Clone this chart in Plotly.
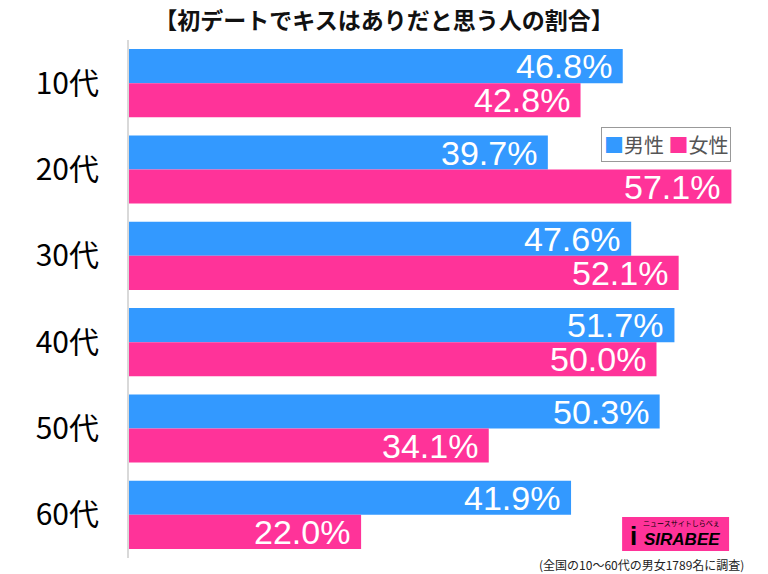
import plotly.graph_objects as go

categories = ["10代", "20代", "30代", "40代", "50代", "60代"]
male = [46.8, 39.7, 47.6, 51.7, 50.3, 41.9]
female = [42.8, 57.1, 52.1, 50.0, 34.1, 22.0]
series_names = ["男性", "女性"]
title_text = "【初デートでキスはありだと思う人の割合】"
note_text = "(全国の10～60代の男女1789名に調査)"

BLUE = "#3399FF"
PINK = "#FF3399"
FONT = "Liberation Sans, Arial, sans-serif"
JP = "Noto Sans CJK JP, sans-serif"

fig = go.Figure()
for name, vals, col in [(series_names[0], male, BLUE), (series_names[1], female, PINK)]:
    fig.add_trace(go.Bar(
        y=categories, x=vals, name=name, orientation="h",
        marker=dict(color=col, line=dict(width=0)),
        showlegend=False,
    ))

annotations = []
for vals, shift in [(male, 17), (female, -17)]:
    for c, v in zip(categories, vals):
        annotations.append(dict(
            x=v, y=c, xref="x", yref="y", text=f"{v:.1f}%", showarrow=False,
            xanchor="right", yanchor="middle", xshift=-9, yshift=shift,
            font=dict(size=34, color="white", family=FONT)))

legend_text = (f"<span style='color:{BLUE}'>■</span>{series_names[0]} "
               f"<span style='color:{PINK}'>■</span>{series_names[1]}")
annotations += [
    dict(text=legend_text, xref="paper", yref="paper", x=0.951, y=0.832, xanchor="right", yanchor="top",
         showarrow=False, bordercolor="#999", borderwidth=1, borderpad=2, bgcolor="white",
         font=dict(size=20, color="#555", family=JP)),
    dict(text=note_text, xref="paper", yref="paper", x=0.975, y=-0.0135, xanchor="right", yanchor="middle",
         showarrow=False, font=dict(size=12, color="#222", family=JP)),
    dict(text="<b><i>SIRABEE</i></b>", xref="paper", yref="paper", x=0.937, y=0.036, xanchor="right",
         yanchor="middle", showarrow=False, font=dict(size=17, color="black", family=FONT)),
    dict(text="<b>i</b>", xref="paper", yref="paper", x=0.797, y=0.042, xanchor="center",
         yanchor="middle", showarrow=False, font=dict(size=26, color="black", family=FONT)),
    dict(text="ニュースサイトしらべぇ", xref="paper", yref="paper", x=0.937, y=0.068, xanchor="right",
         yanchor="middle", showarrow=False, font=dict(size=7, color="black", family=JP)),
]

fig.update_layout(
    width=768, height=574,
    margin=dict(l=129, r=6, t=40, b=16),
    barmode="group", bargap=0.21, bargroupgap=0,
    plot_bgcolor="white", paper_bgcolor="white",
    font=dict(family=FONT),
    showlegend=False,
    title=dict(text=title_text, x=0.5, xanchor="center", y=0.963, yanchor="middle",
               font=dict(size=23, color="#111", family=JP, weight="bold")),
    xaxis=dict(range=[0, 60], showgrid=False, zeroline=False, showticklabels=False, showline=False),
    yaxis=dict(autorange="reversed", showgrid=False, showline=True, linecolor="#d9d9d9", linewidth=2,
               ticks="", ticklabelstandoff=22,
               tickfont=dict(size=30, color="black", family=JP)),
    shapes=[dict(type="rect", xref="paper", yref="paper", x0=0.779, x1=0.948, y0=0.0135, y1=0.079,
                 fillcolor=PINK, line=dict(width=0), layer="above")],
    annotations=annotations,
)

fig.write_html("out.html")
